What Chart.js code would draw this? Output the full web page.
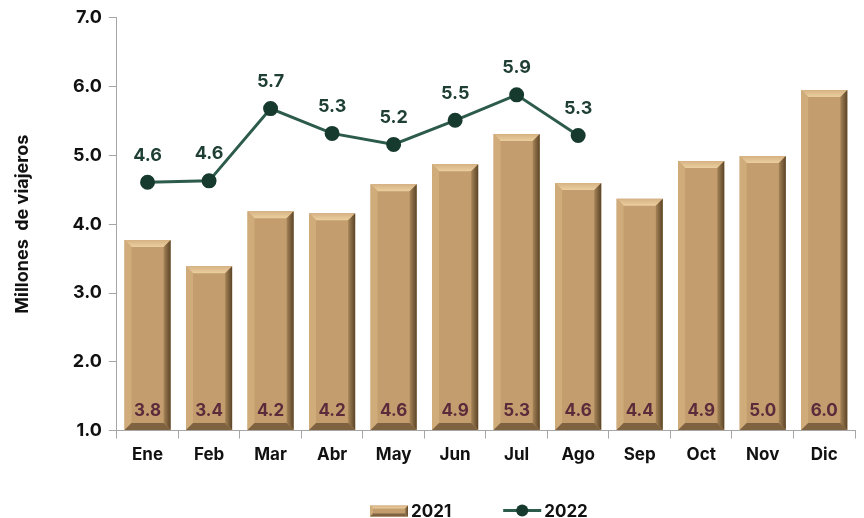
<html>
<head>
<meta charset="utf-8">
<title>Millones de viajeros</title>
<script src="https://cdn.jsdelivr.net/npm/chart.js"></script>
<style>
    body { margin: 0; background: #fff; }
    .container { width: 864px; height: 518px; position: relative; }
</style>
</head>
<body>

<div class="container">
    <canvas id="myChart"></canvas>
</div>
<script>
    var months = ['Ene', 'Feb', 'Mar', 'Abr', 'May', 'Jun', 'Jul', 'Ago', 'Sep', 'Oct', 'Nov', 'Dic'];
    var viajeros2021 = [3.77, 3.39, 4.19, 4.16, 4.58, 4.87, 5.31, 4.60, 4.37, 4.92, 4.99, 5.95];
    var viajeros2022 = [4.61, 4.63, 5.68, 5.32, 5.16, 5.51, 5.88, 5.29];
    var yTicks = [1.0, 2.0, 3.0, 4.0, 5.0, 6.0, 7.0];

    var FONT = 'Inter, "DejaVu Sans", sans-serif';
    var barFace = '#c39d6d';
    var lineColor = '#2c5b4c';
    var pointColor = '#173a2e';

    function poly(ctx, pts, fill) {
        ctx.beginPath();
        ctx.moveTo(pts[0][0], pts[0][1]);
        for (var i = 1; i < pts.length; i++) ctx.lineTo(pts[i][0], pts[i][1]);
        ctx.closePath();
        ctx.fillStyle = fill;
        ctx.fill();
    }

    // bevelled bar look
    function bevel(ctx, l, t, r, b, s) {
        var top = ctx.createLinearGradient(0, t, 0, t + s);
        top.addColorStop(0, '#d6b283');
        top.addColorStop(1, '#ebcf9f');
        poly(ctx, [[l, t], [r, t], [r - s, t + s], [l + s, t + s]], top);
        poly(ctx, [[l, t], [l + s, t + s], [l + s, b - s], [l, b]], '#d0ac7b');
        var g = ctx.createLinearGradient(r - s, 0, r, 0);
        g.addColorStop(0, '#a68458');
        g.addColorStop(1, '#5a4427');
        poly(ctx, [[r, t], [r, b], [r - s, b - s], [r - s, t + s]], g);
        poly(ctx, [[l, b], [r, b], [r - s, b - s], [l + s, b - s]], '#7f6340');
    }

    var bevelPlugin = {
        id: 'bevel',
        afterDatasetDraw: function(chart, args) {
            if (args.index !== 0) return;
            var ctx = chart.ctx;
            ctx.save();
            args.meta.data.forEach(function(bar) {
                var p = bar.getProps(['x', 'y', 'base', 'width'], true);
                bevel(ctx, p.x - p.width / 2, p.y, p.x + p.width / 2, p.base, 7);
            });
            ctx.restore();
        }
    };

    var labelPlugin = {
        id: 'valueLabels',
        afterDatasetsDraw: function(chart) {
            var ctx = chart.ctx;
            ctx.save();
            ctx.font = 'bold 17px ' + FONT;
            ctx.textAlign = 'center';
            ctx.textBaseline = 'middle';
            var bars = chart.getDatasetMeta(0).data;
            ctx.fillStyle = '#5b2a3b';
            bars.forEach(function(bar, i) {
                var p = bar.getProps(['x', 'base'], true);
                ctx.fillText(viajeros2021[i].toFixed(1), p.x, p.base - 19);
            });
            var pts = chart.getDatasetMeta(1).data;
            ctx.fillStyle = '#1f3f34';
            ctx.font = 'bold 18px ' + FONT;
            pts.forEach(function(pt, i) {
                var p = pt.getProps(['x', 'y'], true);
                ctx.fillText(viajeros2022[i].toFixed(1), p.x, p.y - 27);
            });
            ctx.restore();
        }
    };

    // legend drawn by hand: swatch tight against text, wide gap between items
    var legendPlugin = {
        id: 'swatchLegend',
        afterDraw: function(chart) {
            var ctx = chart.ctx, area = chart.chartArea;
            ctx.save();
            ctx.font = 'bold 17px ' + FONT;
            ctx.textBaseline = 'middle';
            ctx.textAlign = 'left';
            var labels = chart.data.datasets.map(function(ds) { return ds.label; });
            var sw = 38, gapText = 3, gapItem = 52;
            var total = 0;
            labels.forEach(function(t, i) {
                total += sw + gapText + ctx.measureText(t).width + (i ? gapItem : 0);
            });
            var x = (area.left + area.right) / 2 - 7 - total / 2;
            var y = area.bottom + 80;
            labels.forEach(function(t, i) {
                if (i === 0) {
                    ctx.fillStyle = barFace;
                    ctx.fillRect(x, y - 5, sw, 11);
                    bevel(ctx, x, y - 5, x + sw, y + 6, 3);
                } else {
                    ctx.strokeStyle = lineColor;
                    ctx.lineWidth = 3;
                    ctx.beginPath(); ctx.moveTo(x, y); ctx.lineTo(x + sw, y); ctx.stroke();
                    ctx.fillStyle = pointColor;
                    ctx.beginPath(); ctx.arc(x + sw / 2, y, 6, 0, Math.PI * 2); ctx.fill();
                }
                x += sw + gapText;
                ctx.fillStyle = '#111';
                ctx.fillText(t, x, y + 1);
                x += ctx.measureText(t).width + gapItem;
            });
            ctx.restore();
        }
    };

    var container = document.getElementById('myChart');
    const myChart = new Chart(container, {
        type: 'bar',
        data: {
            labels: months,
            datasets: [{
                type: 'bar',
                label: '2021',
                data: viajeros2021,
                base: yTicks[0],
                backgroundColor: barFace,
                barPercentage: 0.75,
                categoryPercentage: 1.0,
                order: 2
            }, {
                type: 'line',
                label: '2022',
                data: viajeros2022,
                borderColor: lineColor,
                borderWidth: 3,
                pointRadius: 6,
                pointBackgroundColor: pointColor,
                pointBorderColor: pointColor,
                tension: 0,
                order: 1
            }]
        },
        options: {
            responsive: true,
            maintainAspectRatio: false,
            animation: false,
            layout: { padding: { top: 12, right: 9, left: 12, bottom: 47 } },
            plugins: {
                tooltip: { enabled: false },
                legend: { display: false }
            },
            scales: {
                x: {
                    grid: { display: true, drawOnChartArea: false, drawTicks: true, tickLength: 8, color: '#a6a6a6' },
                    border: { color: '#a6a6a6' },
                    ticks: { color: '#111', padding: 6, font: { family: FONT, size: 17, weight: 'bold' } }
                },
                y: {
                    min: yTicks[0],
                    max: yTicks[yTicks.length - 1],
                    afterBuildTicks: function(axis) {
                        axis.ticks = yTicks.map(function(v) { return { value: v }; });
                    },
                    grid: { display: true, drawOnChartArea: false, drawTicks: true, tickLength: 8, color: '#a6a6a6' },
                    border: { color: '#a6a6a6' },
                    ticks: {
                        color: '#111',
                        padding: 7,
                        font: { family: FONT, size: 18, weight: 'bold' },
                        callback: function(v) { return Number(v).toFixed(1); }
                    },
                    title: {
                        display: true,
                        text: 'Millones  de viajeros',
                        color: '#111',
                        padding: { top: 0, bottom: 32 },
                        font: { family: FONT, size: 18, weight: 'bold' }
                    }
                }
            }
        },
        plugins: [bevelPlugin, labelPlugin, legendPlugin]
    });
</script>

</body>
</html>
